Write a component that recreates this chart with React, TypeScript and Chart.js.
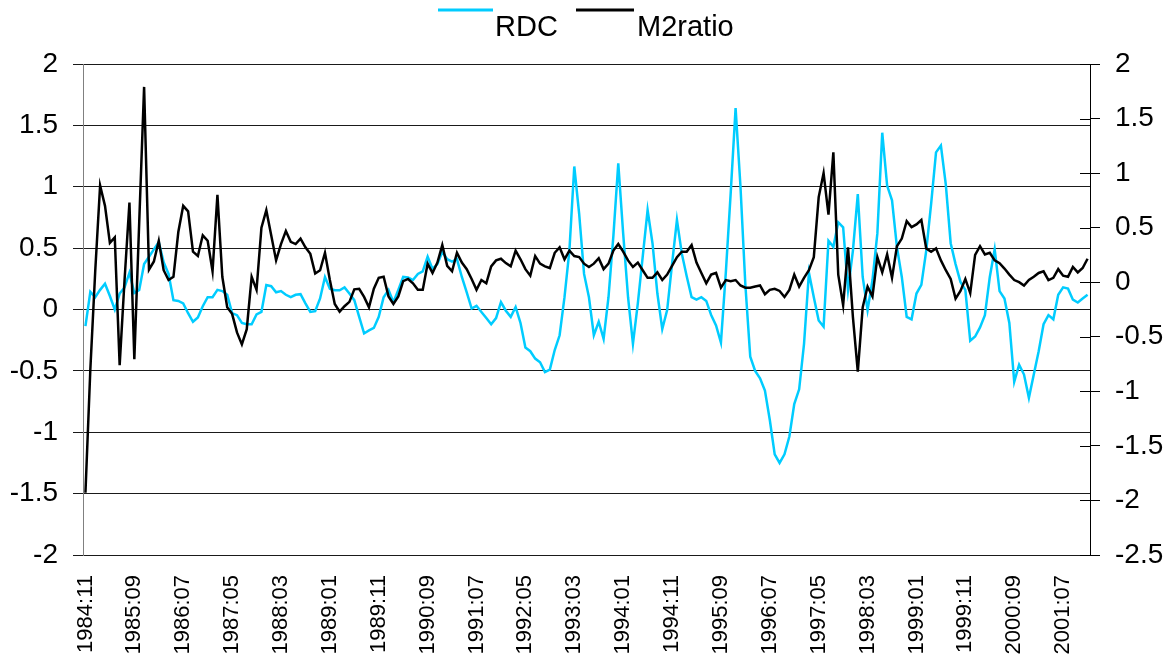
import React, { useEffect, useRef } from 'react';
import { Chart, registerables } from 'chart.js';

Chart.register(...registerables);

const startYear = 1984;
const startMonth = 11;

const rdcValues = [
  -0.135, 0.144, 0.10, 0.16, 0.21, 0.11, 0.00, 0.13, 0.18, 0.30,
  0.135, 0.16, 0.37, 0.43, 0.49, 0.55, 0.385, 0.29, 0.076, 0.07,
  0.05, -0.03, -0.10, -0.065, 0.027, 0.10, 0.10, 0.16, 0.15, 0.12,
  -0.03, -0.046, -0.11, -0.12, -0.12, -0.04, -0.02, 0.20, 0.19, 0.14,
  0.15, 0.12, 0.10, 0.12, 0.125, 0.05, -0.02, -0.014, 0.09, 0.265,
  0.17, 0.157, 0.157, 0.18, 0.13, 0.076, -0.06, -0.195, -0.17, -0.15,
  -0.06, 0.10, 0.16, 0.06, 0.16, 0.265, 0.26, 0.24, 0.29, 0.31,
  0.43, 0.33, 0.37, 0.47, 0.41, 0.39, 0.41, 0.265, 0.14, 0.008,
  0.03, -0.02, -0.07, -0.12, -0.07, 0.06, -0.01, -0.06, 0.02, -0.11,
  -0.31, -0.34, -0.40, -0.43, -0.51, -0.49, -0.33, -0.21, 0.10, 0.48,
  1.165, 0.78, 0.29, 0.10, -0.21, -0.10, -0.24, 0.10, 0.60, 1.19,
  0.62, 0.10, -0.28, 0.05, 0.43, 0.81, 0.54, 0.13, -0.16, -0.005,
  0.37, 0.73, 0.455, 0.27, 0.10, 0.08, 0.10, 0.07, -0.045, -0.13,
  -0.27, 0.30, 0.95, 1.64, 1.00, 0.20, -0.385, -0.50, -0.56, -0.66,
  -0.90, -1.18, -1.25, -1.18, -1.035, -0.77, -0.65, -0.28, 0.30, 0.10,
  -0.09, -0.14, 0.56, 0.51, 0.71, 0.67, 0.16, 0.48, 0.94, 0.265,
  -0.005, 0.24, 0.62, 1.44, 1.01, 0.89, 0.51, 0.265, -0.06, -0.08,
  0.13, 0.20, 0.48, 0.86, 1.28, 1.336, 1.02, 0.54, 0.37, 0.225,
  0.16, -0.255, -0.22, -0.146, -0.046, 0.265, 0.49, 0.15, 0.09, -0.11,
  -0.59, -0.45, -0.53, -0.72, -0.53, -0.34, -0.12, -0.046, -0.08, 0.12,
  0.18, 0.17, 0.08, 0.057, 0.09, 0.12,
];

const m2ratioValues = [
  -1.93, -0.80, 0.10, 0.886, 0.70, 0.36, 0.41, -0.76, 0.02, 0.73,
  -0.705, 0.55, 1.79, 0.115, 0.19, 0.38, 0.11, 0.02, 0.05, 0.46,
  0.70, 0.65, 0.28, 0.24, 0.43, 0.38, 0.10, 0.80, 0.05, -0.23,
  -0.29, -0.46, -0.57, -0.43, 0.05, -0.07, 0.50, 0.66, 0.43, 0.20,
  0.35, 0.47, 0.37, 0.35, 0.40, 0.32, 0.26, 0.08, 0.11, 0.27,
  0.02, -0.20, -0.27, -0.22, -0.18, -0.065, -0.06, -0.135, -0.23, -0.06,
  0.04, 0.05, -0.13, -0.20, -0.13, 0.01, 0.03, -0.01, -0.07, -0.07,
  0.17, 0.085, 0.18, 0.34, 0.15, 0.10, 0.27, 0.18, 0.12, 0.03,
  -0.07, 0.02, -0.01, 0.145, 0.20, 0.215, 0.175, 0.145, 0.29, 0.21,
  0.12, 0.06, 0.24, 0.17, 0.145, 0.13, 0.27, 0.32, 0.21, 0.29,
  0.24, 0.23, 0.17, 0.14, 0.17, 0.22, 0.12, 0.17, 0.29, 0.35,
  0.28, 0.20, 0.14, 0.18, 0.11, 0.04, 0.04, 0.09, 0.02, 0.07,
  0.15, 0.23, 0.28, 0.28, 0.34, 0.18, 0.085, -0.01, 0.07, 0.085,
  -0.05, 0.02, 0.01, 0.02, -0.03, -0.05, -0.05, -0.04, -0.03, -0.11,
  -0.07, -0.06, -0.08, -0.135, -0.07, 0.07, -0.04, 0.04, 0.11, 0.23,
  0.78, 1.00, 0.62, 1.19, 0.07, -0.21, 0.32, -0.32, -0.82, -0.23,
  -0.04, -0.13, 0.23, 0.09, 0.255, 0.04, 0.33, 0.40, 0.56, 0.505,
  0.53, 0.57, 0.31, 0.28, 0.31, 0.20, 0.11, 0.03, -0.15, -0.08,
  0.03, -0.10, 0.25, 0.33, 0.255, 0.27, 0.20, 0.175, 0.125, 0.07,
  0.02, 0.00, -0.03, 0.02, 0.05, 0.085, 0.10, 0.02, 0.04, 0.12,
  0.06, 0.05, 0.14, 0.09, 0.13, 0.215,
];

const categories = rdcValues.map((_, i) => {
  const m = startMonth - 1 + i;
  const y = startYear + Math.floor(m / 12);
  const mm = (m % 12) + 1;
  return `${y}:${String(mm).padStart(2, '0')}`;
});

const labelEvery = 10;
const seriesNames = ['RDC', 'M2ratio'];
const seriesColors = ['#00ccff', '#000000'];

const FONT = "'Liberation Sans', Arial, sans-serif";

const legendPlugin = {
  id: 'customLegend',
  afterDraw(chart: any) {
    const ctx = chart.ctx;
    const items = [
      { x0: 438, x1: 493, tx: 495 },
      { x0: 576, x1: 634, tx: 637 },
    ];
    ctx.save();
    chart.data.datasets.forEach((ds: any, i: number) => {
      const it = items[i];
      ctx.strokeStyle = ds.borderColor;
      ctx.lineWidth = 3;
      ctx.beginPath();
      ctx.moveTo(it.x0, 10);
      ctx.lineTo(it.x1, 10);
      ctx.stroke();
      ctx.fillStyle = '#000';
      ctx.font = `29px ${FONT}`;
      ctx.textBaseline = 'middle';
      ctx.textAlign = 'left';
      ctx.fillText(ds.label, it.tx, 28);
    });
    ctx.restore();
  },
};

const rightInnerTicks = {
  id: 'rightInnerTicks',
  afterDraw(chart: any) {
    const s = chart.scales.y1;
    if (!s) return;
    const ctx = chart.ctx;
    ctx.save();
    ctx.strokeStyle = '#000';
    ctx.lineWidth = 1;
    s.ticks.forEach((_: any, i: number) => {
      const y = Math.round(s.getPixelForTick(i)) + 0.5;
      ctx.beginPath();
      ctx.moveTo(s.left - 10, y);
      ctx.lineTo(s.left, y);
      ctx.stroke();
    });
    ctx.restore();
  },
};

export default function App() {
  const ref = useRef<HTMLCanvasElement | null>(null);

  useEffect(() => {
    if (!ref.current) return;
    const chart = new Chart(ref.current, {
      type: 'line',
      data: {
        labels: categories,
        datasets: [
          {
            label: seriesNames[0],
            data: rdcValues,
            borderColor: seriesColors[0],
            backgroundColor: seriesColors[0],
            borderWidth: 2.5,
            pointRadius: 0,
            tension: 0,
            yAxisID: 'y',
            order: 1,
          },
          {
            label: seriesNames[1],
            data: m2ratioValues,
            borderColor: seriesColors[1],
            backgroundColor: seriesColors[1],
            borderWidth: 2.5,
            pointRadius: 0,
            tension: 0,
            yAxisID: 'y1',
            order: 0,
          },
        ],
      },
      options: {
        responsive: false,
        animation: false,
        layout: { padding: { top: 64, left: 0, right: 0, bottom: 0 } },
        plugins: {
          legend: { display: false },
          tooltip: { enabled: false },
        },
        scales: {
          x: {
            type: 'category',
            offset: true,
            grid: { display: false, drawTicks: false },
            border: { display: false },
            ticks: {
              autoSkip: false,
              minRotation: 90,
              maxRotation: 90,
              padding: 20,
              color: '#000',
              font: { family: FONT, size: 22 },
              callback: (_v: any, i: number) => (i % labelEvery === 0 ? categories[i] : null),
            },
            afterFit: (scale: any) => {
              scale.height = 110;
            },
          },
          y: {
            position: 'left',
            min: -2,
            max: 2,
            grid: { color: '#1a1a1a', lineWidth: 1, tickLength: 10, drawTicks: true },
            border: { display: true, color: '#808080', width: 1 },
            ticks: {
              stepSize: 0.5,
              padding: 15,
              color: '#000',
              font: { family: FONT, size: 28 },
              callback: (v: any) => String(v),
            },
            afterFit: (scale: any) => {
              scale.width = 83;
            },
          },
          y1: {
            position: 'right',
            min: -2.5,
            max: 2,
            grid: { drawOnChartArea: false, color: '#000', tickLength: 10, drawTicks: true },
            border: { display: true, color: '#000', width: 1 },
            ticks: {
              stepSize: 0.5,
              padding: 15,
              color: '#000',
              font: { family: FONT, size: 28 },
              callback: (v: any) => String(v),
            },
            afterFit: (scale: any) => {
              scale.width = 81;
            },
          },
        },
      },
      plugins: [legendPlugin, rightInnerTicks],
    });
    return () => chart.destroy();
  }, []);

  return (
    <div style={{ position: 'absolute', left: 0, top: 0, width: 1171, height: 665, background: '#fff' }}>
      <canvas ref={ref} width={1171} height={665} />
    </div>
  );
}
